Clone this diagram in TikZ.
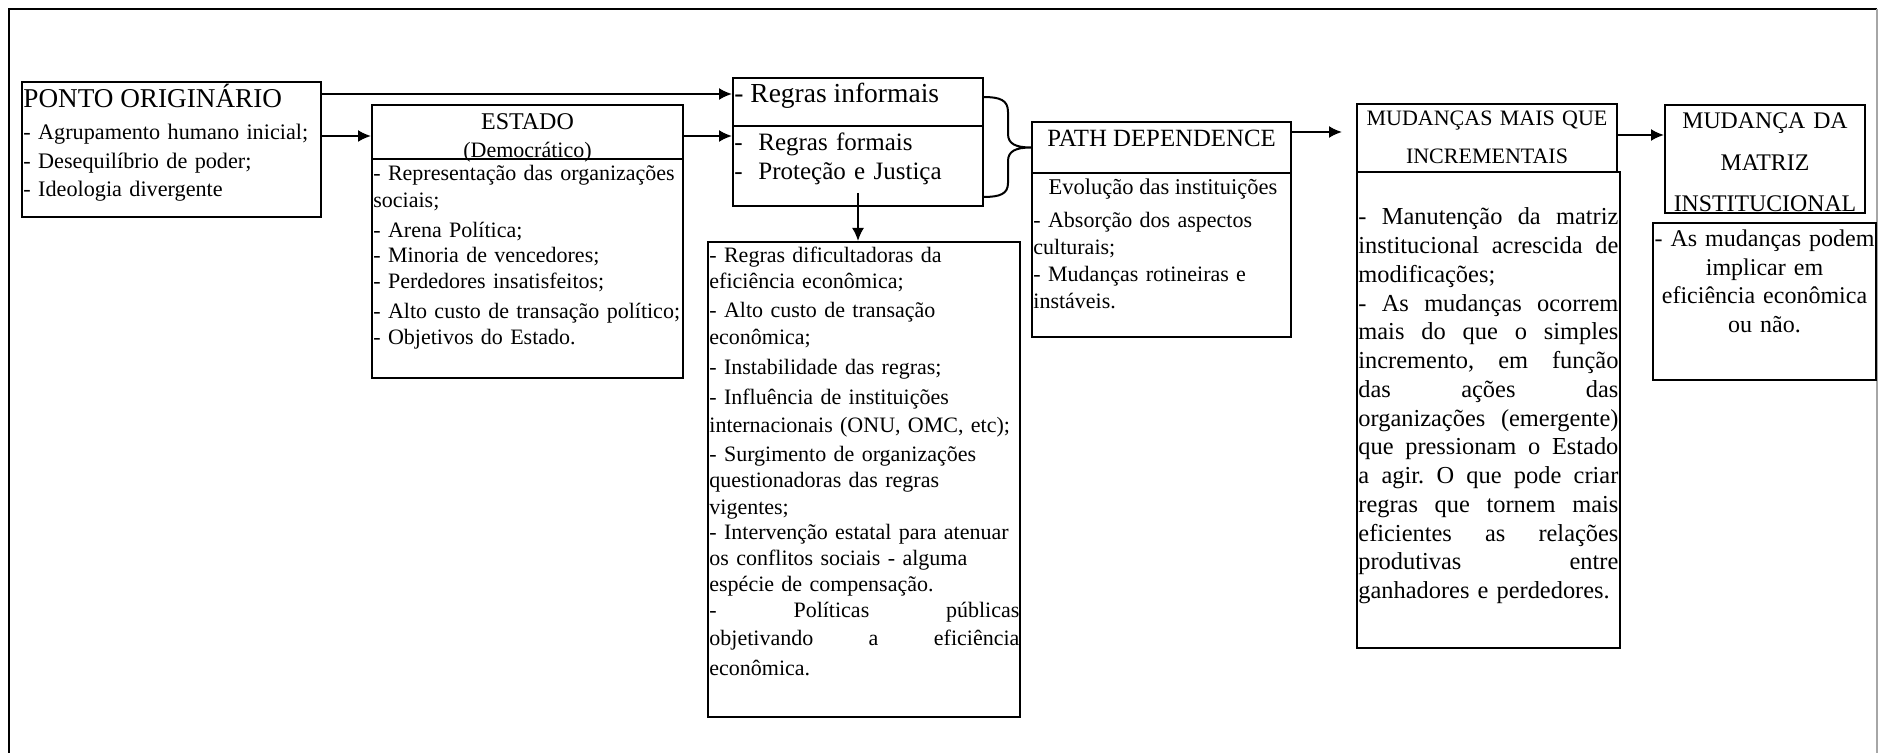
\documentclass[tikz,border=0pt]{standalone}
\usepackage{fontspec}
\setmainfont{Liberation Serif}
\usetikzlibrary{fit,arrows.meta}
\newcommand{\fs}[2]{\fontsize{#1pt}{#2pt}\selectfont}
\newcommand{\jl}[2]{\makebox[#1][s]{\spaceskip=0.25em plus 10em\relax\xspaceskip=0pt\relax #2}}
\frenchspacing
\begin{document}
\begin{tikzpicture}[x=0.5pt,y=-0.5pt,
  box/.style={draw, line width=1pt, inner sep=0pt},
  txt/.style={inner sep=0pt, anchor=base west, align=left},
  ctxt/.style={inner sep=0pt, anchor=base, align=center},
  arr/.style={line width=1pt, -{Latex[length=6.5pt,width=6pt]}},
  ]
\useasboundingbox (0,0) rectangle (1878,753);
% frame
\draw[line width=1.35pt] (9,753) -- (9,9) -- (1877,9);
\draw[line width=0.6pt, black!35] (1877,9) -- (1877,753);
% boxes
\node[box, fit={(22,82) (321,217)}] (ponto) {};
\node[box, fit={(372,105) (683,159)}] (estadoH) {};
\node[box, fit={(372,159) (683,378)}] (estadoB) {};
\node[box, fit={(733,78) (983,126)}] (informal) {};
\node[box, fit={(733,126) (983,206)}] (formal) {};
\node[box, fit={(708,242) (1020,717)}] (rules) {};
\node[box, fit={(1032,122) (1291,173)}] (pathH) {};
\node[box, fit={(1032,173) (1291,337)}] (pathB) {};
\node[box, fit={(1357,104) (1617,172)}] (mudH) {};
\node[box, fit={(1357,172) (1620,648)}] (mudB) {};
\node[box, fit={(1665,105) (1865,213)}] (matH) {};
\node[box, fit={(1653,223) (1876,380)}] (matB) {};
% texts
\node[txt, font=\fs{13.6}{16}] (pontoT) at (23,108) {PONTO ORIGINÁRIO};
\node[txt, text width=148pt, font=\fs{11.1}{14.3}] (pontoL) at (23,139.5)
  {- Agrupamento humano inicial;\\- Desequilíbrio de poder;\\- Ideologia divergente};
\node[ctxt, font=\fs{12}{14}] (estT) at (527.5,130) {ESTADO};
\node[ctxt, font=\fs{11}{13}] (estS) at (527.5,158) {(Democrático)};
\node[txt, text width=155pt, font=\fs{11}{13}] (estL) at (373,181)
  {- Representação das organizações\\[0.5pt]sociais;\\[2pt]- Arena Política;\\[-0.5pt]- Minoria de vencedores;\\- Perdedores insatisfeitos;\\[2pt]- Alto custo de transação político;\\[0pt]- Objetivos do Estado.};
\node[txt, font=\fs{13.75}{16}] (infT) at (734,103) {- Regras informais};
\node[txt, text width=120pt, font=\fs{12.5}{14.3}] (forL) at (734,151)
  {\makebox[12pt][l]{-}Regras formais\\\makebox[12pt][l]{-}Proteção e Justiça};
\node[txt, text width=155pt, font=\fs{11}{13}] (rulesL) at (709,263)
  {- Regras dificultadoras da\\eficiência econômica;\\[1.5pt]- Alto custo de transação\\[0.5pt]econômica;\\[2pt]- Instabilidade das regras;\\[2pt]- Influência de instituições\\[1pt]internacionais (ONU, OMC, etc);\\[1.5pt]- Surgimento de organizações\\questionadoras das regras\\[0.5pt]vigentes;\\[-0.5pt]- Intervenção estatal para atenuar\\os conflitos sociais - alguma\\espécie de compensação.\\\jl{155pt}{- Políticas públicas}\\[1pt]\jl{155pt}{objetivando a eficiência}\\[2pt]econômica.};
\node[ctxt, font=\fs{12.4}{14}] (pathT) at (1161.5,147) {PATH DEPENDENCE};
\node[ctxt, font=\fs{11.25}{13}] (pathE) at (1163,195) {Evolução das instituições};
\node[txt, text width=128pt, font=\fs{11}{13.5}] (pathL) at (1033,228)
  {- Absorção dos aspectos\\culturais;\\- Mudanças rotineiras e\\instáveis.};
\node[ctxt, text width=128pt, font=\fs{11}{19}] (mudT) at (1487,126)
  {MUDANÇAS MAIS QUE\\INCREMENTAIS};
\node[txt, text width=130pt, font=\fs{12.2}{14.37}] (mudL) at (1358,225)
  {\jl{130pt}{- Manutenção da matriz}\\\jl{130pt}{institucional acrescida de}\\modificações;\\\jl{130pt}{- As mudanças ocorrem}\\\jl{130pt}{mais do que o simples}\\\jl{130pt}{incremento, em função}\\\jl{130pt}{das ações das}\\\jl{130pt}{organizações (emergente)}\\\jl{130pt}{que pressionam o Estado}\\\jl{130pt}{a agir. O que pode criar}\\\jl{130pt}{regras que tornem mais}\\\jl{130pt}{eficientes as relações}\\\jl{130pt}{produtivas entre}\\ganhadores e perdedores.};
\node[ctxt, text width=104pt, font=\fs{11.9}{20.75}] (matT) at (1765,129)
  {MUDANÇA DA\\MATRIZ\\INSTITUCIONAL};
\node[ctxt, text width=112pt, font=\fs{12}{14.2}] (matL) at (1764.5,247)
  {- As mudanças podem\\implicar em\\eficiência econômica\\ou não.};
% connectors
\coordinate (y94) at (0,94);
\coordinate (y132) at (0,132);
\coordinate (y135) at (0,135);
\coordinate (y136) at (0,136);
\draw[arr] (ponto.east |- y94) -- (informal.west |- y94);
\draw[arr] (ponto.east |- y136) -- (estadoH.west |- y136);
\draw[arr] (estadoH.east |- y136) -- (formal.west |- y136);
\coordinate (dstart) at (858,193);
\draw[arr] (dstart) -- (dstart |- rules.north);
\draw[arr, shorten >=7pt] (pathH.east |- y132) -- (mudH.west |- y132);
\draw[arr] (mudH.east |- y135) -- (matH.west |- y135);
% brace
\coordinate (bt) at (983,97);
\coordinate (bb) at (983,197);
\draw[line width=1pt] (bt) .. controls (1000,97) and (1008,100) .. (1008,112) -- (1008,134)
  .. controls (1008,144) and (1016,147.5) .. (pathH.west)
  .. controls (1016,147.5) and (1008,151) .. (1008,161) -- (1008,183)
  .. controls (1008,194) and (1000,197) .. (bb);
\end{tikzpicture}
\end{document}
